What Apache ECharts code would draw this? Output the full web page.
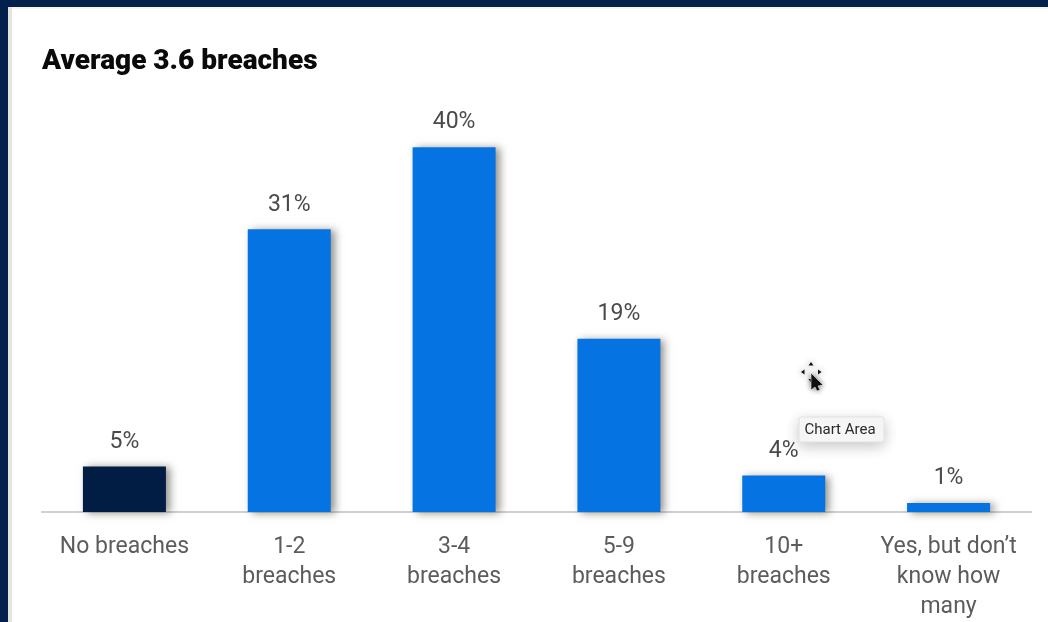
<!DOCTYPE html>
<html>
<head>
<meta charset="utf-8">
<style>html,body{margin:0;padding:0;background:#fff}#chart{width:1048px;height:622px}</style>
<script src="https://cdn.jsdelivr.net/npm/echarts@6/dist/echarts.min.js"></script>
</head>
<body>
<div id="chart"></div>
<script>
const categories = ['No breaches', '1-2\nbreaches', '3-4\nbreaches', '5-9\nbreaches', '10+\nbreaches', 'Yes, but don\u2019t\nknow how\nmany'];
const shares = [5, 31, 40, 19, 4, 1];
const barColors = ['#021D44', '#0573E1', '#0573E1', '#0573E1', '#0573E1', '#0573E1'];
const navy = '#03204C';

// Small drag-handle arrow of the move cursor, pointing along (dx, dy) from (x, y)
function handle(x, y, dx, dy) {
  return {
    type: 'polygon', z: 50,
    shape: { points: [[x + dx * 3.5, y + dy * 3.5], [x - dy * 2.5, y + dx * 2.5], [x + dy * 2.5, y - dx * 2.5]] },
    style: { fill: '#111', shadowBlur: 6, shadowColor: 'rgba(0,0,0,0.6)' }
  };
}

const chart = echarts.init(document.getElementById('chart'), null, { renderer: 'canvas' });
chart.setOption({
  animation: false,
  backgroundColor: '#ffffff',
  title: {
    text: 'Average 3.6 breaches',
    left: 37, top: 40,
    textStyle: { fontFamily: 'Roboto', fontWeight: 900, fontSize: 28, color: '#0a0a0a', lineHeight: 34 }
  },
  grid: { left: 42, right: 17, top: 56, bottom: 110, containLabel: false, outerBoundsMode: 'none' },
  xAxis: {
    type: 'category',
    data: categories,
    axisTick: { show: false },
    axisLine: { lineStyle: { color: '#d2d0cc', width: 2 } },
    axisLabel: {
      interval: 0, margin: 20,
      fontFamily: 'Roboto', fontSize: 23, lineHeight: 30, color: '#5c5c5c'
    }
  },
  yAxis: { type: 'value', min: 0, max: 50, show: false, splitLine: { show: false } },
  series: [{
    type: 'bar',
    barWidth: 83,
    data: shares.map((v, i) => ({ value: v, itemStyle: { color: barColors[i] } })),
    itemStyle: { shadowColor: 'rgba(60,55,45,0.55)', shadowBlur: 8, shadowOffsetX: 4, shadowOffsetY: 1 },
    label: {
      show: true, position: 'top', distance: 13,
      formatter: p => p.value + '%',
      fontFamily: 'Roboto', fontSize: 23, color: '#4a4a4a'
    }
  }],
  graphic: [
    // Window frame around the white panel
    { type: 'rect', z: 40, shape: { x: 0, y: 0, width: 1048, height: 7 }, style: { fill: navy } },
    { type: 'rect', z: 40, shape: { x: 0, y: 0, width: 8, height: 622 }, style: { fill: navy } },
    { type: 'rect', z: 40, shape: { x: 8, y: 7, width: 4, height: 615 }, style: { fill: '#e6e3dc' } },
    { type: 'rect', z: 40, shape: { x: 12, y: 7, width: 1036, height: 2 }, style: { fill: '#f6f4ef' } },
    // Hover tip
    {
      type: 'rect', z: 50,
      shape: { x: 799, y: 417, width: 85, height: 25, r: 2 },
      style: { fill: '#f8f8f8', stroke: '#e2e2e2', lineWidth: 1, shadowBlur: 14, shadowColor: 'rgba(0,0,0,0.22)', shadowOffsetY: 4 }
    },
    {
      type: 'text', z: 51, x: 840, y: 430,
      style: { text: 'Chart Area', fontFamily: 'Roboto', fontSize: 15, fill: '#2a2a2a', align: 'center', verticalAlign: 'middle' }
    },
    // Move cursor
    handle(811, 365.5, 0, -1),
    handle(804.5, 372, -1, 0),
    handle(818, 372, 1, 0),
    handle(811, 379, 0, 1),
    {
      type: 'polygon', z: 51,
      shape: { points: [[811, 373], [823, 385], [818, 386], [820, 390], [817, 391], [815, 387], [811, 390]] },
      style: { fill: '#111', stroke: '#eee', lineWidth: 0.6, shadowBlur: 5, shadowColor: 'rgba(0,0,0,0.5)' }
    }
  ]
});
</script>
</body>
</html>
